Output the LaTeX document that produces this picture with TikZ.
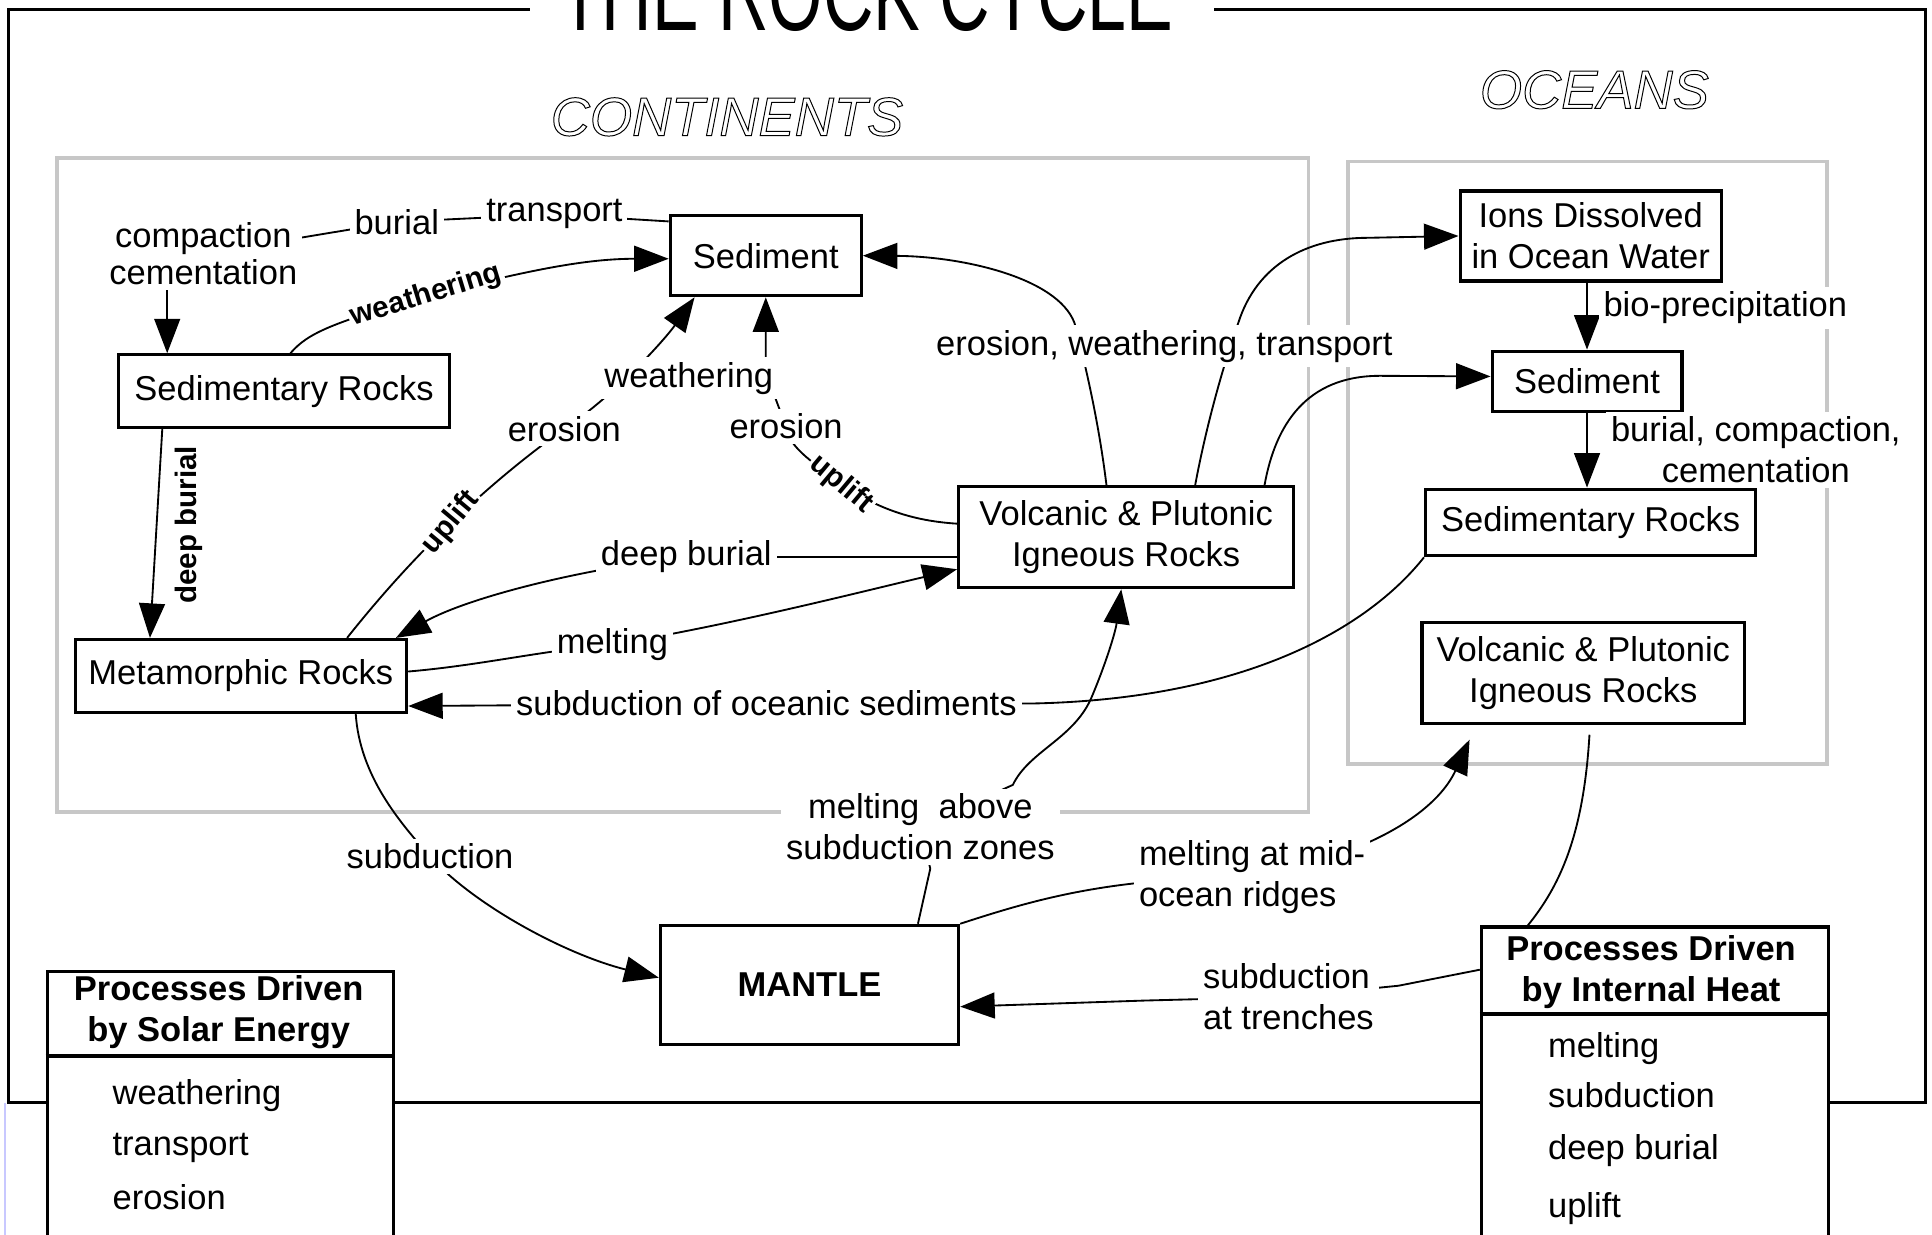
\documentclass[tikz,border=0pt]{standalone}
\usepackage{fontspec}
\setmainfont{Liberation Sans}
\usetikzlibrary{arrows.meta}
\pgfdeclarelayer{bg}
\pgfsetlayers{bg,main}
% outlined (stroked) glyphs
\newcommand\hollowtext[1]{\special{pdf:literal direct 1 Tr}#1\special{pdf:literal direct 0 Tr}}

\begin{document}
\begin{tikzpicture}[x=0.5pt,y=-0.5pt,
  every node/.style={font=\fontsize{14}{16.5}\selectfont},
  box/.style={draw, line width=1.3pt, fill=white, inner sep=0pt, align=center},
  lbl/.style={fill=white, inner sep=2pt, align=center},
  rlbl/.style={font=\fontsize{12}{14}\selectfont\bfseries, fill=white, inner sep=1pt},
  conn/.style={line width=0.75pt},
  arr/.style={conn, -{Triangle[length=14pt,width=10.5pt]}},
  regionbox/.style={draw=black!22, line width=1.5pt},
  listitem/.style={anchor=base west, inner sep=0pt},
  head/.style={font=\fontsize{14}{16.5}\selectfont\bfseries, align=center, inner sep=0pt}]

\useasboundingbox (0,0) rectangle (1568,1002);

% ---------- title and region headings ----------
\node[font=\fontsize{43}{45}\selectfont, xscale=0.66, anchor=base, inner sep=0pt] (title) at (703,25) {THE ROCK CYCLE};
\node[font=\fontsize{22}{24}\selectfont\itshape, anchor=base, inner sep=0pt] (cont) at (590,110) {\hollowtext{CONTINENTS}};
\node[font=\fontsize{22}{24}\selectfont\itshape, anchor=base, inner sep=0pt] (ocean) at (1294,88) {\hollowtext{OCEANS}};

% ---------- continental boxes ----------
\node[box, minimum width=77.5pt, minimum height=32.5pt] (sed1) at (621.5,207.5) {Sediment};
\node[box, minimum width=134.5pt, minimum height=29.5pt] (srock1) at (230.5,317.5) {Sedimentary Rocks};
\node[box, minimum width=134.5pt, minimum height=29.5pt] (meta) at (195.5,548.5) {Metamorphic Rocks};
\node[box, minimum width=136pt, minimum height=41pt] (volc1) at (914,436) {Volcanic \& Plutonic\\Igneous Rocks};

% ---------- oceanic boxes ----------
\node[box, minimum width=106pt, minimum height=36.5pt] (ions) at (1291,191.5) {Ions Dissolved\\in Ocean Water};
\node[box, minimum width=77pt, minimum height=24.5pt] (sed2) at (1288,309.5) {Sediment};
\node[box, minimum width=134pt, minimum height=27pt] (srock2) at (1291,424) {Sedimentary Rocks};
\node[box, minimum width=131pt, minimum height=41pt] (volc2) at (1285,546) {Volcanic \&\ Plutonic\\Igneous Rocks};

% ---------- mantle ----------
\node[box, minimum width=121pt, minimum height=48.5pt, font=\fontsize{14}{16.5}\selectfont\bfseries] (mantle) at (657,799.5) {MANTLE};

% ---------- process legends ----------
\node[box, minimum width=140.5pt, minimum height=125pt, anchor=north west] (solar) at (37,787) {};
\draw[line width=1.3pt] ([yshift=-35pt]solar.north west) -- ([yshift=-35pt]solar.north east);
\node[head] (solarhead) at (177.5,821.5) {Processes Driven\\by Solar Energy};
\node[listitem] (s1) at (91,896) {weathering};
\node[listitem] (s2) at (91,938) {transport};
\node[listitem] (s3) at (91,982) {erosion};

\node[box, minimum width=141pt, minimum height=135pt, anchor=north west] (heat) at (1201,751) {};
\draw[line width=1.3pt] ([yshift=-36pt]heat.north west) -- ([yshift=-36pt]heat.north east);
\node[head] (heathead) at (1340,789) {Processes Driven\\by Internal Heat};
\node[listitem] (h1) at (1256,858) {melting};
\node[listitem] (h2) at (1256,899) {subduction};
\node[listitem] (h3) at (1256,941) {deep burial};
\node[listitem] (h4) at (1256,988) {uplift};

% ---------- process labels ----------
\node[lbl, font=\fontsize{14}{15}\selectfont] (cc) at (165,206) {compaction\\cementation};
\node[lbl] (burial) at (322,180) {burial};
\node[lbl] (transport) at (450,174) {transport};
\node[rlbl, rotate=17] (wth1) at (346,240) {weathering};
\node[rlbl, rotate=90, fill=none] (deepb1) at (153,426) {deep burial};
\node[rlbl, rotate=50] (upl1) at (366,424) {uplift};
\node[lbl] (ero1) at (458,348) {erosion};
\node[lbl] (wth2) at (559,307) {weathering};
\node[lbl] (ero2) at (638,346) {erosion};
\node[rlbl, rotate=-40] (upl2) at (683,393) {uplift};
\node[lbl] (ewt) at (945,281) {erosion, weathering, transport};
\node[lbl] (db2) at (557,452) {deep burial};
\node[lbl] (melt1) at (497,523) {melting};
\node[lbl] (subsed) at (622,571) {subduction of oceanic sediments};
\node[lbl] (mabove) at (747,671) {melting\ \ above\\subduction zones};
\node[lbl] (subd) at (349,695) {subduction};
\node[lbl, align=left, anchor=west] (mid) at (920,712) {melting at mid-\\ocean ridges};
\node[lbl, align=left, anchor=west] (trench) at (972,809) {subduction\\at trenches};
\node[lbl, anchor=west] (bio) at (1297,250) {bio-precipitation};
\node[lbl] (bcc) at (1425,365) {burial, compaction,\\cementation};

\begin{pgfonlayer}{bg}
  % outer frame, open at the top for the title
  \draw[line width=1.3pt] (430,8) -- (7,8) -- (7,895) -- (1563,895) -- (1563,8) -- (985,8);
  \draw[color={rgb,255:red,200;green,200;blue,255}, line width=0.6pt] (4,895) -- (4,1002);
  % continent and ocean regions
  \draw[regionbox] (46,128) rectangle (1062,659);
  \draw[regionbox] (1094,131) rectangle (1483,620);

  % sediment -> sedimentary rocks (transport, burial, compaction)
  \draw[conn] ([yshift=-3pt]sed1.north west) -- (transport.center) -- (burial.center) -- (cc.center);
  \coordinate (srin) at ([xshift=20.5pt]srock1.north west);
  \draw[arr] (cc.south -| srin) -- (srin);

  % sedimentary rocks -> sediment (weathering)
  \draw[arr] ([xshift=70.5pt]srock1.north west) .. controls (250,270) and (270,262) .. (wth1.center)
     .. controls (420,222) and (470,210) .. ([yshift=-1.25pt]sed1.west);

  % sedimentary rocks -> metamorphic rocks (deep burial)
  \draw[arr] ([xshift=18.5pt]srock1.south west) -- ([xshift=31pt]meta.north west);

  % metamorphic rocks -> sediment (uplift, erosion, weathering)
  \draw[arr] ([xshift=111pt]meta.north west) .. controls (333,453) and (391,396) .. (ero1.center)
     .. controls (500,320) and (540,275) .. ([xshift=10.5pt]sed1.south west);

  % igneous rocks -> sediment (uplift, erosion)
  \draw[arr] ([yshift=5.5pt]volc1.west) .. controls (745,423) and (715,415) .. (upl2.center)
     .. controls (655,372) and (640,362) .. (ero2.center)
     .. controls (630,325) and (621.5,305) .. (621.5,290) -- (sed1.south);

  % igneous rocks -> metamorphic rocks (deep burial)
  \draw[arr] ([yshift=-8pt]volc1.west) -- (db2.center) .. controls (470,462) and (380,485) .. ([xshift=-5pt]meta.north east);

  % metamorphic rocks -> igneous rocks (melting)
  \draw[arr] ([yshift=1.75pt]meta.east) .. controls (390,540) and (440,528) .. (melt1.center)
     .. controls (590,508) and (700,480) .. ([yshift=-13pt]volc1.west);

  % oceanic sedimentary rocks -> metamorphic rocks
  \draw[arr] (srock2.south west) .. controls (1110,510) and (1010,568) .. (835,571) -- (subsed.center) -- ([yshift=-12.25pt]meta.east);

  % igneous rocks -> sediment / ions / oceanic sediment
  \draw[arr] ([xshift=-8pt]volc1.north) .. controls (892,345) and (882,300) .. (872,262)
     .. controls (858,225) and (780,208) .. (sed1.east);
  \draw[arr] ([xshift=28pt]volc1.north) .. controls (980,340) and (995,290) .. (1005,262)
     .. controls (1020,215) and (1060,193) .. (1110,193) -- (ions.west);
  \draw[arr] ([xshift=-12.5pt]volc1.north east) .. controls (1035,345) and (1060,305) .. (1120,305) -- ([yshift=2pt]sed2.west);

  % ocean column
  \draw[arr] (ions.south -| sed2.north) -- (sed2.north);
  \draw[arr] (sed2.south) -- (sed2.south |- srock2.north);
  \draw[conn] ([xshift=2.5pt,yshift=-4pt]volc2.south) .. controls (1285,680) and (1265,720) .. ([xshift=19.5pt]heat.north west);

  % mantle -> oceanic igneous rocks (mid-ocean ridges)
  \draw[arr] (mantle.north east) .. controls (840,730) and (900,712) .. (mid.center)
     .. controls (1130,690) and (1170,650) .. ([xshift=20pt,yshift=-6pt]volc2.south west);

  % mantle -> continental igneous rocks (above subduction zones)
  \draw[arr] ([xshift=44pt]mantle.north) -- (755,705) -- (mabove.center) -- (822,637)
     .. controls (835,610) and (870,600) .. (885,568)
     .. controls (895,545) and (905,515) .. ([xshift=-2pt]volc1.south);

  % metamorphic rocks -> mantle (subduction)
  \draw[arr] ([xshift=114.5pt]meta.south west) .. controls (292,630) and (325,668) .. (subd.center)
     .. controls (385,735) and (460,775) .. ([yshift=3pt]mantle.west);

  % internal heat -> mantle (subduction at trenches)
  \draw[arr] ([yshift=-18pt]heat.north west) -- (1135,800) -- (trench.center) -- (930,812) -- ([yshift=-8.75pt]mantle.east);
\end{pgfonlayer}
\end{tikzpicture}
\end{document}
